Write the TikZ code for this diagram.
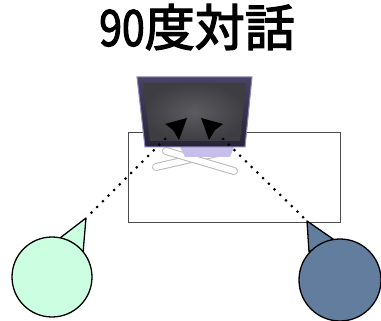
\documentclass[tikz,border=0pt]{standalone}
\usepackage{fontspec}
\usepackage{graphicx}
\newfontfamily\cjk{Noto Sans CJK JP}[FakeBold=2.6]
\definecolor{mint}{RGB}{204,255,226}
\definecolor{slate}{RGB}{98,125,158}
\definecolor{bezeltop}{RGB}{72,66,100}
\definecolor{bezelbot}{RGB}{38,36,52}
\definecolor{rim}{RGB}{140,135,190}
\definecolor{lav}{RGB}{200,190,235}
\definecolor{screenmid}{RGB}{92,92,96}
\definecolor{screenedge}{RGB}{62,62,66}
\begin{document}
\begin{tikzpicture}[x=1pt,y=-1pt,
  outline/.style={draw=black, line width=1.3pt, line join=round},
  person/.style={circle, outline, inner sep=0pt},
  dotline/.style={line width=3pt, line cap=round, dash pattern=on 0pt off 8pt},
  frame/.style={draw=black!70, line width=0.9pt},
  standbar/.style={line cap=round},
  cursor/.style={fill=black, line join=round}]
\useasboundingbox (0,0) rectangle (381,321);

% title
\node (title) at (197,27) {\cjk\fontsize{50}{50}\selectfont\scalebox{0.82}[1]{90}度対話};

% table area
\draw[frame] (128,132) rectangle (340,222);

% monitor stand
\draw[standbar, line width=8pt, black!28] (156,167) -- (226,151);
\draw[standbar, line width=6pt, white] (156,167) -- (226,151);
\draw[standbar, line width=8pt, black!28] (166,151) -- (234,171);
\draw[standbar, line width=6pt, white] (166,151) -- (234,171);
\fill[lav] (180,147) -- (234,147) -- (230,157) -- (185,157) -- cycle;

% monitor bezel and screen
\shade[top color=bezeltop, bottom color=bezelbot, draw=rim, line width=1pt]
  (137,77) -- (252,77) -- (245,147) -- (145,147) -- cycle;
\shade[inner color=screenmid, outer color=screenedge]
  (143,83) -- (246,83) -- (240,141) -- (150,141) -- cycle;
\coordinate (mL) at (165,139);
\coordinate (mR) at (223,139);

% pointers on the screen
\fill[cursor] (187,118) -- (165,124) -- (173,130) -- (179,140) -- cycle;
\fill[cursor] (201,118) -- (223,124) -- (215,130) -- (209,140) -- cycle;

% speaker on the left
\coordinate (tL) at (86,218);
\draw[outline, fill=mint] (tL) -- (60,238) -- (83,253) -- cycle;
\node[person, fill=mint, minimum size=80pt] (pL) at (52,277) {};

% speaker on the right
\coordinate (tR) at (307,221);
\draw[outline, fill=slate] (tR) -- (333,239) -- (309,252) -- cycle;
\node[person, fill=slate, minimum size=82pt] (pR) at (340,280) {};

% lines of sight
\draw[dotline] (mL) -- (tL);
\draw[dotline] (mR) -- (tR);
\end{tikzpicture}
\end{document}
